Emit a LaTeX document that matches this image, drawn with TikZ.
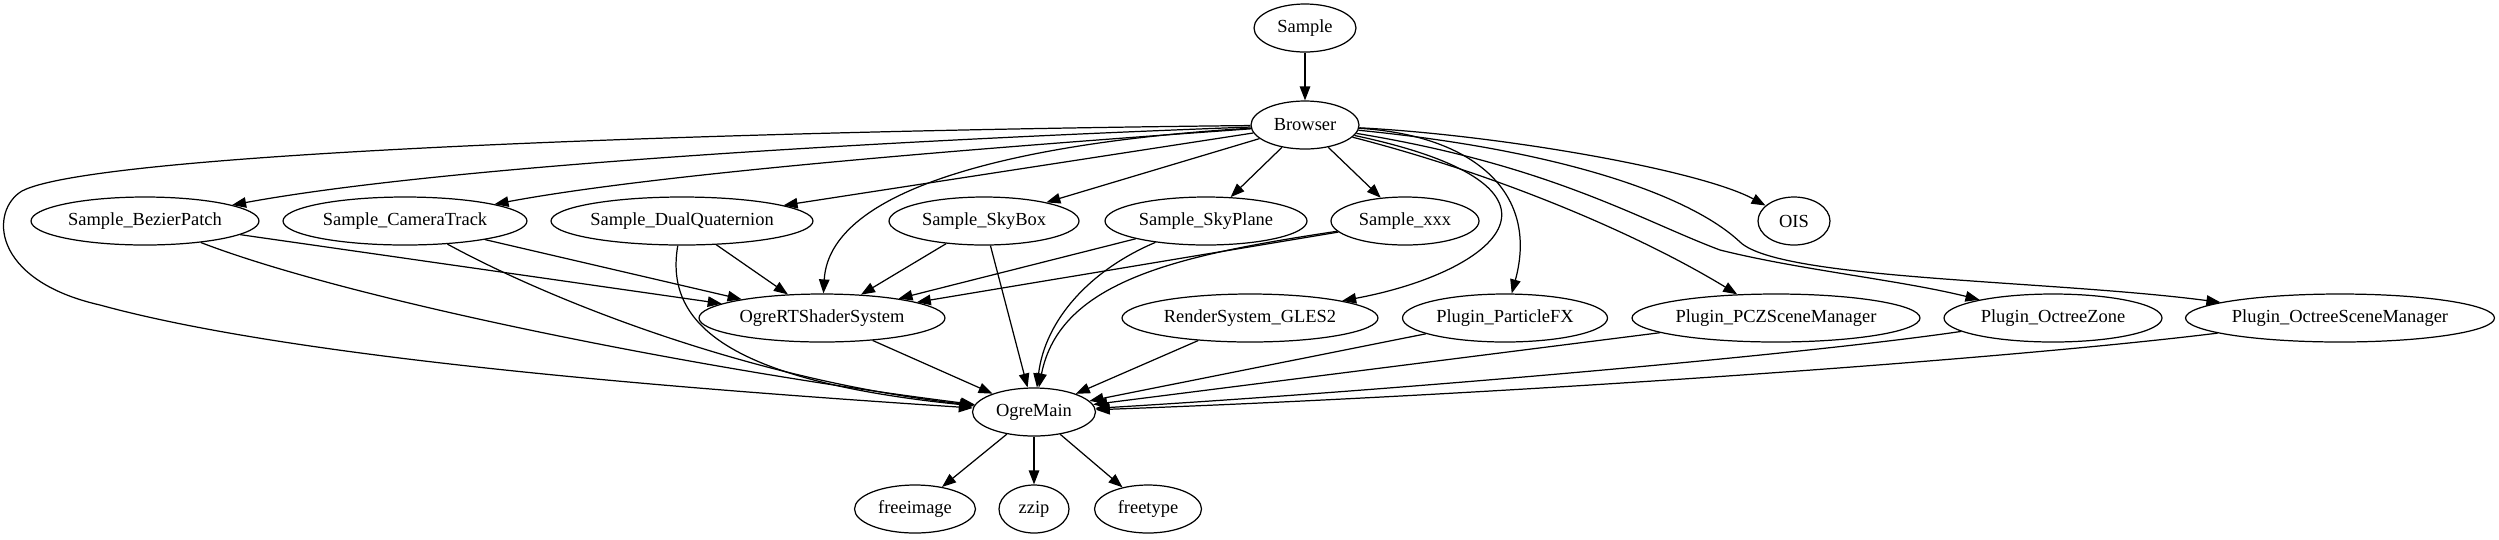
\documentclass[tikz,border=0pt]{standalone}
\usepackage{fontspec}
\setmainfont{Liberation Serif}
\usepackage{tikz}
\usetikzlibrary{arrows.meta,shapes.geometric}

\begin{document}
\begin{tikzpicture}[
  x=0.02cm, y=-0.02cm,
  gnode/.style={ellipse,draw,line width=0.7pt,inner sep=0pt,minimum height=0.96cm,minimum width=#1,font=\fontsize{10.5}{12}\selectfont},
  arrow/.style={-{Triangle[length=0.28cm,width=0.21cm]},line width=0.7pt}
]
  \useasboundingbox (0,0) rectangle (2499,539);

  \node[gnode=2.04cm] (sample) at (1305,28) {Sample};
  \node[gnode=2.16cm] (browser) at (1305,125) {Browser};

  \node[gnode=4.56cm] (bezier) at (145,221) {Sample\_BezierPatch};
  \node[gnode=4.88cm] (camera) at (405,221) {Sample\_CameraTrack};
  \node[gnode=5.24cm] (dualq) at (682,221) {Sample\_DualQuaternion};
  \node[gnode=3.8cm] (skybox) at (984,221) {Sample\_SkyBox};
  \node[gnode=4.04cm] (skyplane) at (1206,221) {Sample\_SkyPlane};
  \node[gnode=2.96cm] (xxx) at (1405,221) {Sample\_xxx};
  \node[gnode=1.44cm] (ois) at (1794,221) {OIS};

  \node[gnode=4.92cm] (rtss) at (822,318) {OgreRTShaderSystem};
  \node[gnode=5.12cm] (gles) at (1250,318) {RenderSystem\_GLES2};
  \node[gnode=4.1cm] (particle) at (1505,318) {Plugin\_ParticleFX};
  \node[gnode=5.76cm] (pcz) at (1776,318) {Plugin\_PCZSceneManager};
  \node[gnode=4.36cm] (ozone) at (2053,318) {Plugin\_OctreeZone};
  \node[gnode=6.18cm] (osm) at (2340,318) {Plugin\_OctreeSceneManager};

  \node[gnode=2.46cm] (ogremain) at (1034,412) {OgreMain};

  \node[gnode=2.42cm] (freeimage) at (915,509) {freeimage};
  \node[gnode=1.4cm] (zzip) at (1034,509) {zzip};
  \node[gnode=2.14cm] (freetype) at (1148,509) {freetype};

  \draw[arrow] (sample) -- (browser);

  \draw[arrow] (browser) .. controls (900,140) and (450,165) .. (bezier);
  \draw[arrow] (browser) .. controls (950,150) and (650,175) .. (camera);
  \draw[arrow] (browser) -- (dualq);
  \draw[arrow] (browser) -- (skybox);
  \draw[arrow] (browser) -- (skyplane);
  \draw[arrow] (browser) -- (xxx);
  \draw[arrow] (browser) .. controls (1500,135) and (1700,170) .. (ois);
  \draw[arrow] (browser) .. controls (1050,140) and (830,180) .. (rtss);
  \draw[arrow] (browser) .. controls (1598,187) and (1497,272) .. (gles);
  \draw[arrow] (browser) .. controls (1470,135) and (1540,190) .. (particle);
  \draw[arrow] (browser) .. controls (1500,175) and (1640,235) .. (pcz);
  \draw[arrow] (browser) .. controls (1550,165) and (1640,220) .. (1720,250)
    .. controls (1800,270) and (1900,280) .. (ozone);
  \draw[arrow] (browser) .. controls (1560,150) and (1690,195) .. (1740,242)
    .. controls (1780,280) and (2050,280) .. (osm);
  \draw[arrow] (browser) .. controls (800,130) and (100,150) .. (22,191)
    .. controls (-10,210) and (-10,280) .. (100,305)
    .. controls (300,360) and (700,390) .. (ogremain);

  \draw[arrow] (bezier) -- (rtss);
  \draw[arrow] (bezier) .. controls (350,300) and (700,370) .. (ogremain);
  \draw[arrow] (camera) -- (rtss);
  \draw[arrow] (camera) .. controls (550,300) and (750,380) .. (ogremain);
  \draw[arrow] (dualq) -- (rtss);
  \draw[arrow] (dualq) .. controls (665,320) and (720,380) .. (ogremain);
  \draw[arrow] (skybox) -- (rtss);
  \draw[arrow] (skybox) -- (ogremain);
  \draw[arrow] (skyplane) -- (rtss);
  \draw[arrow] (skyplane) .. controls (1090,270) and (1045,320) .. (ogremain);
  \draw[arrow] (xxx) -- (rtss);
  \draw[arrow] (xxx) .. controls (1180,255) and (1060,280) .. (ogremain);

  \draw[arrow] (rtss) -- (ogremain);
  \draw[arrow] (gles) -- (ogremain);
  \draw[arrow] (particle) -- (ogremain);
  \draw[arrow] (pcz) -- (ogremain);
  \draw[arrow] (ozone) .. controls (1800,355) and (1400,390) .. (ogremain);
  \draw[arrow] (osm) .. controls (2000,360) and (1500,395) .. (ogremain);

  \draw[arrow] (ogremain) -- (freeimage);
  \draw[arrow] (ogremain) -- (zzip);
  \draw[arrow] (ogremain) -- (freetype);
\end{tikzpicture}
\end{document}
